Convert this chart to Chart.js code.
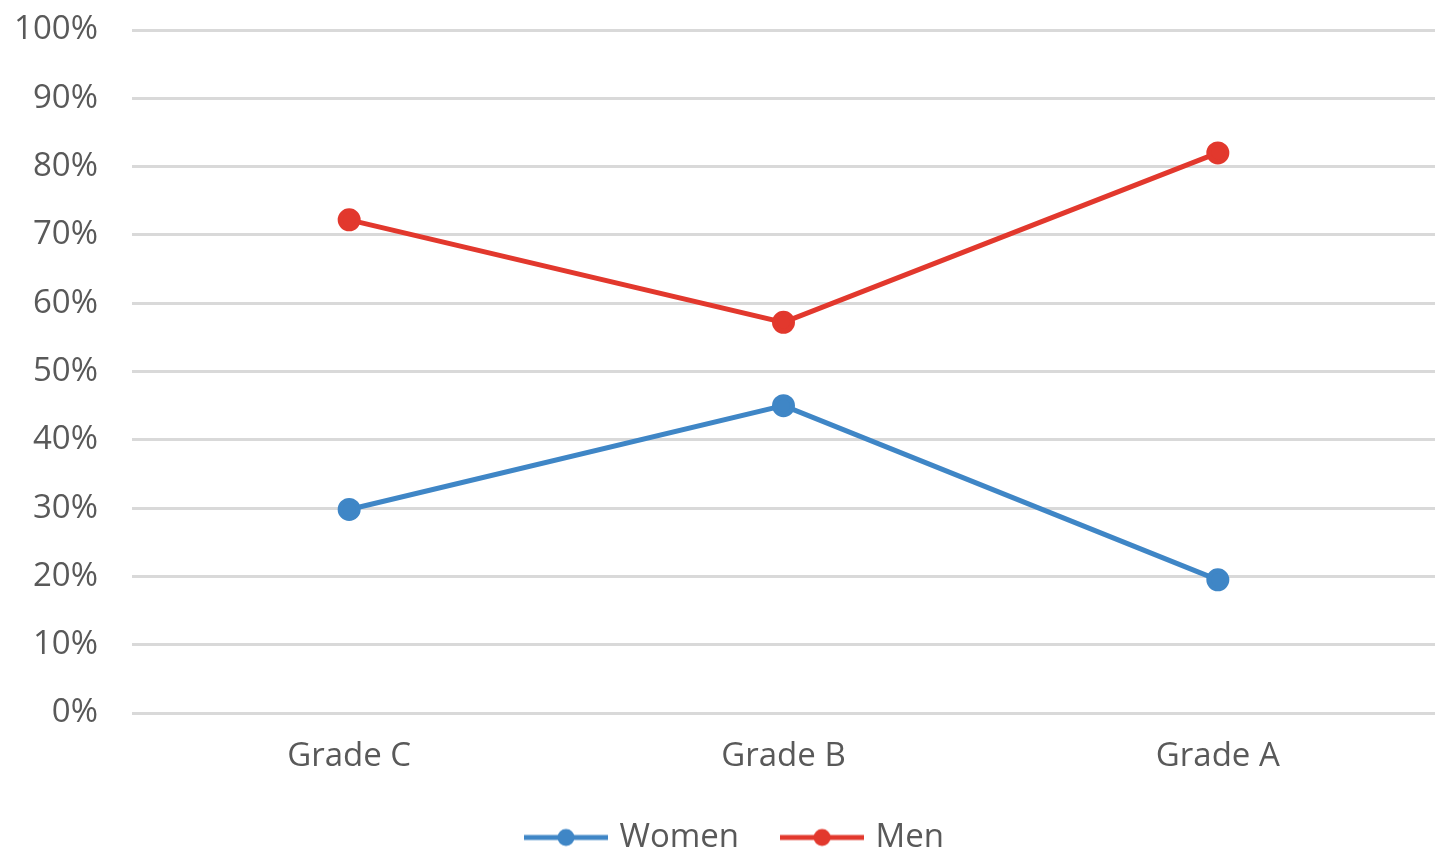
<!DOCTYPE html>
<html>
<head>
<meta charset="utf-8">
<script src="https://cdn.jsdelivr.net/npm/chart.js@4/dist/chart.umd.min.js"></script>
<style>
  html, body { margin: 0; padding: 0; background: #ffffff; overflow: hidden; }
  canvas { display: block; }
</style>
</head>
<body>
<canvas id="chart" width="1449" height="852"></canvas>
<script>
// Share of each grade, by gender (percent)
const grades = ['Grade C', 'Grade B', 'Grade A'];
const women = [29.8, 45.0, 19.5];
const men = [72.2, 57.2, 82.0];
const seriesNames = ['Women', 'Men'];

const BLUE = '#3f86c6';
const RED = '#e2382d';
const TEXT = '#595959';
const FONT = '"Open Sans", "Noto Sans", sans-serif';
const FONT_SIZE = 33;

// Legend marker: a short line with a dot in the middle
function legendMarker(color) {
  const c = document.createElement('canvas');
  c.width = 84; c.height = 20;
  const g = c.getContext('2d');
  g.strokeStyle = color; g.lineWidth = 5; g.lineCap = 'butt';
  g.beginPath(); g.moveTo(0, 10); g.lineTo(84, 10); g.stroke();
  g.fillStyle = color;
  g.beginPath(); g.arc(42, 10, 8.5, 0, Math.PI * 2); g.fill();
  return c;
}

// Nudge the legend so it sits a little left of the plot area's centre
const legendPlacement = {
  id: 'legendPlacement',
  afterLayout(chart) {
    const lg = chart.legend;
    if (!lg) return;
    const shift = (chart.chartArea.left + chart.chartArea.right) / 2 - (lg.left + lg.right) / 2 - 47;
    lg.left += shift; lg.right += shift;
    (lg.legendHitBoxes || []).forEach(b => { b.left += shift; });
  }
};

new Chart(document.getElementById('chart'), {
  type: 'line',
  data: {
    labels: grades,
    datasets: [
      { label: seriesNames[0], data: women, borderColor: BLUE, backgroundColor: BLUE,
        pointStyle: 'circle', borderWidth: 5, pointRadius: 9, pointHoverRadius: 9, tension: 0 },
      { label: seriesNames[1], data: men, borderColor: RED, backgroundColor: RED,
        pointStyle: 'circle', borderWidth: 5, pointRadius: 9, pointHoverRadius: 9, tension: 0 }
    ]
  },
  plugins: [legendPlacement],
  options: {
    responsive: false,
    animation: false,
    layout: { padding: { left: 10, right: 4, top: 30, bottom: -12 } },
    plugins: {
      tooltip: { enabled: false },
      legend: {
        position: 'bottom',
        labels: {
          color: TEXT,
          font: { family: FONT, size: FONT_SIZE },
          usePointStyle: true,
          pointStyleWidth: 74,
          padding: 46,
          generateLabels(chart) {
            return chart.data.datasets.map((ds, i) => ({
              text: ds.label,
              pointStyle: legendMarker(ds.borderColor),
              fillStyle: ds.borderColor,
              strokeStyle: ds.borderColor,
              lineWidth: 0,
              fontColor: TEXT,
              datasetIndex: i,
              hidden: false
            }));
          }
        }
      }
    },
    scales: {
      x: {
        offset: true,
        grid: { display: false, drawTicks: false },
        border: { display: false },
        ticks: { color: TEXT, font: { family: FONT, size: FONT_SIZE }, padding: 24 },
        afterFit(scale) { scale.height = 62; scale.paddingLeft = 0; scale.paddingRight = 0; }
      },
      y: {
        min: 0, max: 100,
        grid: { color: '#d9d9d9', lineWidth: 3, drawTicks: false },
        border: { display: false },
        ticks: {
          stepSize: 10,
          color: TEXT,
          font: { family: FONT, size: FONT_SIZE },
          padding: 34,
          callback: v => v + '%'
        },
        afterFit(scale) { scale.width = 122; scale.paddingTop = 0; scale.paddingBottom = 0; }
      }
    }
  }
});
</script>
</body>
</html>
